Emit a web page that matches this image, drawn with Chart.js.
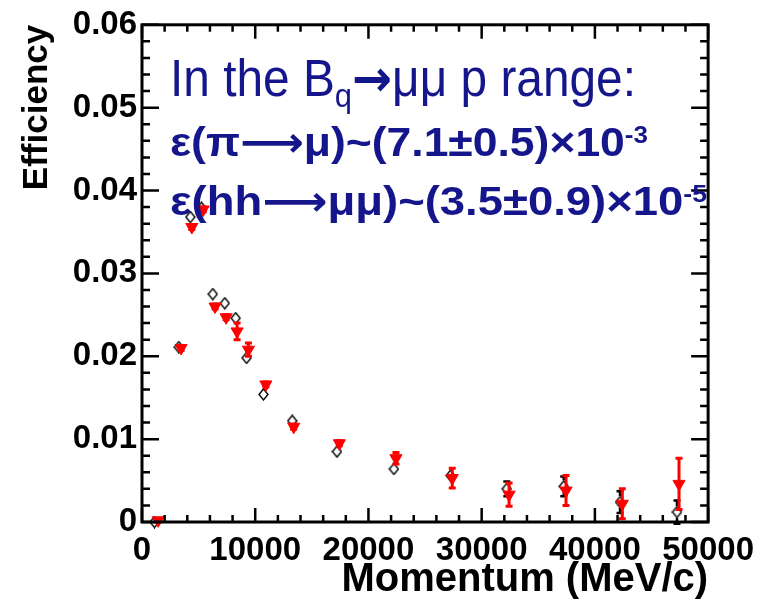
<!DOCTYPE html>
<html>
<head>
<meta charset="utf-8">
<script src="https://cdn.jsdelivr.net/npm/chart.js@4.4.1/dist/chart.umd.min.js"></script>
<style>
  html, body { margin: 0; background: #fff; }
</style>
</head>
<body>
<canvas id="eff" width="763" height="601"></canvas>
<script>
/* Muon mis-ID efficiency vs momentum — two samples, ROOT-style frame. */

const FONT = '"Liberation Sans", Arial, "DejaVu Sans", sans-serif';
const NAVY = '#16168c';

// open diamonds
const diamondX   = [1100, 3250, 4270, 5260, 6250, 7310, 8270, 9240, 10730, 13270, 17220, 22250, 27250, 32220, 37250, 42220, 47250];
const diamondY   = [0.0000, 0.0211, 0.0368, 0.0379, 0.0275, 0.0264, 0.0246, 0.0198, 0.0154, 0.0122, 0.0085, 0.0064, 0.0056, 0.0040, 0.0043, 0.0024, 0.0012];
const diamondErr = [0.0002, 0.0003, 0.0004, 0.0004, 0.0003, 0.0003, 0.0003, 0.0003, 0.0003, 0.0003, 0.0003, 0.0004, 0.0005, 0.0009, 0.0012, 0.0013, 0.0014];

// red down-triangles
const triangleX   = [1430, 3450, 4400, 5400, 6450, 7430, 8400, 9400, 10940, 13400, 17430, 22430, 27400, 32420, 37450, 42420, 47430];
const triangleY   = [0.0002, 0.0210, 0.0356, 0.0377, 0.0260, 0.0247, 0.0230, 0.0208, 0.0166, 0.0115, 0.0095, 0.0077, 0.0053, 0.0033, 0.0038, 0.0022, 0.0046];
const triangleErr = [0.0002, 0.0003, 0.0003, 0.0003, 0.0003, 0.0003, 0.0010, 0.0008, 0.0003, 0.0003, 0.0003, 0.0007, 0.0012, 0.0014, 0.0018, 0.0018, 0.0031];

const xTickLabels = ['0', '10000', '20000', '30000', '40000', '50000'];
const yTickLabels = ['0', '0.01', '0.02', '0.03', '0.04', '0.05', '0.06'];

const X_MAX = 50000, Y_MAX = 0.06;

function pts(xs, ys, errs) {
    return xs.map((x, i) => ({ x, y: ys[i], err: errs[i] }));
}

// hollow diamond, a bit taller than wide like the ROOT marker
function diamondMarker() {
    const c = document.createElement('canvas');
    c.width = 11; c.height = 13;
    const g = c.getContext('2d');
    g.strokeStyle = '#000';
    g.lineWidth = 1.4;
    g.beginPath();
    g.moveTo(5.5, 1); g.lineTo(10, 6.5); g.lineTo(5.5, 12); g.lineTo(1, 6.5);
    g.closePath();
    g.stroke();
    return c;
}

/* error bars: drawn just before each dataset's markers */
const errorBars = {
    id: 'errorBars',
    beforeDatasetDraw(chart, args) {
        const ds = chart.data.datasets[args.index];
        const { ctx } = chart;
        const y = chart.scales.y;
        ctx.save();
        ctx.strokeStyle = ds.barColor;
        ctx.lineWidth = ds.barWidth;
        args.meta.data.forEach((el, i) => {
            const p = ds.data[i];
            const top = y.getPixelForValue(p.y + p.err);
            const bot = y.getPixelForValue(p.y - p.err);
            const gap = ds.barGap;
            ctx.beginPath();
            if (el.y - top > gap) {
                ctx.moveTo(el.x, el.y - gap); ctx.lineTo(el.x, top);
                ctx.moveTo(el.x - 3.5, top); ctx.lineTo(el.x + 3.5, top);
            }
            if (bot - el.y > gap) {
                ctx.moveTo(el.x, el.y + gap); ctx.lineTo(el.x, bot);
                ctx.moveTo(el.x - 3.5, bot); ctx.lineTo(el.x + 3.5, bot);
            }
            ctx.stroke();
        });
        ctx.restore();
    },
};

/* ROOT frame: box plus inward ticks on all four sides */
const rootFrame = {
    id: 'rootFrame',
    afterDraw(chart) {
        const { ctx, chartArea: a, scales: { x, y } } = chart;
        ctx.save();
        ctx.strokeStyle = '#000';
        ctx.lineWidth = 2.5;
        ctx.beginPath();
        for (let i = 0; i <= 25; i++) {
            const px = x.getPixelForValue(i * 2000);
            const len = i % 5 === 0 ? 14 : 7;
            ctx.moveTo(px, a.bottom); ctx.lineTo(px, a.bottom - len);
            ctx.moveTo(px, a.top); ctx.lineTo(px, a.top + len);
        }
        for (let i = 0; i <= 30; i++) {
            const py = y.getPixelForValue(i * 0.002);
            const len = i % 5 === 0 ? 17 : 8;
            ctx.moveTo(a.left, py); ctx.lineTo(a.left + len, py);
            ctx.moveTo(a.right, py); ctx.lineTo(a.right - len, py);
        }
        ctx.stroke();
        ctx.lineWidth = 3;
        ctx.strokeRect(a.left, a.top, a.right - a.left, a.bottom - a.top);
        ctx.restore();
    },
};

/* the blue annotation, each line squeezed to the reference width */
const annotation = {
    id: 'annotation',
    afterDraw(chart) {
        const { ctx } = chart;
        const reg = (s) => `400 ${s}px ${FONT}`;
        const bold = (s) => `700 ${s}px ${FONT}`;
        const lines = [
            { x: 170, base: 96, width: 466, parts: [
                { t: 'In the B', f: reg(51) }, { t: 'q', f: reg(33), dy: 11 },
                { t: '\u2192', f: `700 51px "DejaVu Sans", ${FONT}` },
                { t: '\u03bc\u03bc p range:', f: reg(51) }] },
            { x: 170, base: 156, width: 478, parts: [
                { t: '\u03b5(\u03c0\u27f6\u03bc)~(7.1\u00b10.5)\u00d710', f: bold(41) },
                { t: '-3', f: bold(24), dy: -13 }] },
            { x: 170, base: 215, width: 537, parts: [
                { t: '\u03b5(hh\u27f6\u03bc\u03bc)~(3.5\u00b10.9)\u00d710', f: bold(41) },
                { t: '-5', f: bold(24), dy: -13 }] },
        ];
        ctx.save();
        ctx.fillStyle = NAVY;
        ctx.textBaseline = 'alphabetic';
        ctx.textAlign = 'left';
        lines.forEach((ln) => {
            let total = 0;
            ln.parts.forEach((p) => { ctx.font = p.f; p.w = ctx.measureText(p.t).width; total += p.w; });
            ctx.save();
            ctx.translate(ln.x, ln.base);
            ctx.scale(ln.width / total, 1);
            let cx = 0;
            ln.parts.forEach((p) => {
                ctx.font = p.f;
                ctx.fillText(p.t, cx, p.dy || 0);
                cx += p.w;
            });
            ctx.restore();
        });
        ctx.restore();
    },
};

new Chart(document.getElementById('eff'), {
    type: 'scatter',
    data: {
        datasets: [
            {
                label: 'triangles', data: pts(triangleX, triangleY, triangleErr),
                pointStyle: 'triangle', rotation: 180, pointRadius: 7,
                backgroundColor: '#ff0000', borderColor: '#ff0000', borderWidth: 1,
                barColor: '#ff0000', barWidth: 3, barGap: 0, clip: false, order: 1,
            },
            {
                label: 'diamonds', data: pts(diamondX, diamondY, diamondErr),
                pointStyle: diamondMarker(), pointRadius: 6,
                barColor: '#000', barWidth: 2.5, barGap: 6, clip: false, order: 2,
            },
        ],
    },
    options: {
        responsive: false,
        animation: false,
        events: [],
        layout: { padding: { top: 21, right: 51, left: 0, bottom: 0 } },
        plugins: { legend: { display: false }, tooltip: { enabled: false } },
        scales: {
            x: {
                type: 'linear', min: 0, max: X_MAX,
                afterFit: (s) => { s.height = 79; },
                grid: { display: false, drawTicks: false },
                border: { display: false },
                ticks: {
                    stepSize: 10000, padding: 9, color: '#000', maxRotation: 0,
                    font: { family: FONT, size: 33, weight: 'bold' },
                    callback: (v) => xTickLabels[Math.round(v / 10000)],
                },
                title: {
                    display: true, text: 'Momentum (MeV/c)', align: 'end', color: '#000',
                    font: { family: FONT, size: 40, weight: 'bold', lineHeight: 1 },
                    padding: { top: 0, bottom: 1 },
                },
            },
            y: {
                min: 0, max: Y_MAX,
                afterFit: (s) => { s.width = 142; },
                grid: { display: false, drawTicks: false },
                border: { display: false },
                ticks: {
                    stepSize: 0.01, padding: 5, color: '#000',
                    font: { family: FONT, size: 33, weight: 'bold' },
                    callback: (v) => yTickLabels[Math.round(v / 0.01)],
                },
                title: {
                    display: true, text: 'Efficiency', align: 'end', color: '#000',
                    font: { family: FONT, size: 35, weight: 'bold', lineHeight: 1 },
                    padding: { top: 20, bottom: 0 },
                },
            },
        },
    },
    plugins: [errorBars, rootFrame, annotation],
});
</script>
</body>
</html>
